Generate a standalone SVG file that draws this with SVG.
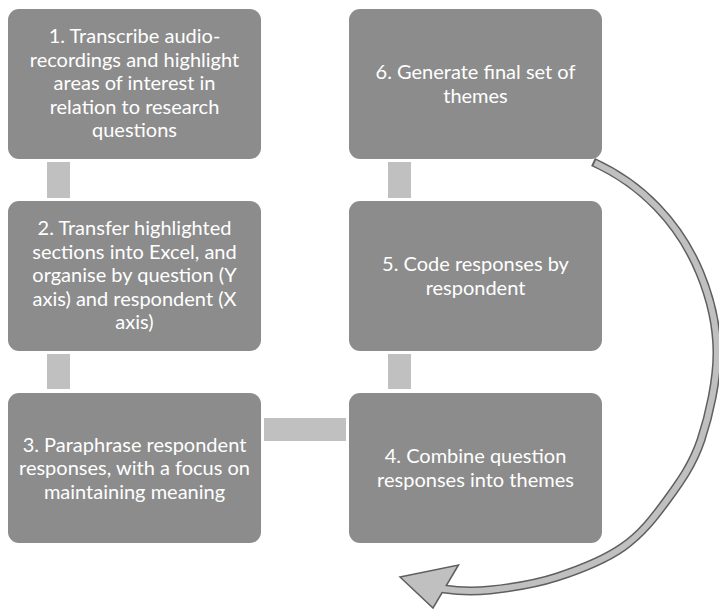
<svg xmlns="http://www.w3.org/2000/svg" width="719" height="611" viewBox="0 0 719 611">
<defs>
<style>
.box{fill:#8c8c8c;}
.lbl{fill:#ffffff;font-family:Lato,"Liberation Sans",sans-serif;font-size:20px;text-anchor:middle;}
.bar{fill:#c0c0c0;}
.shaftDark{fill:none;stroke:#5f5f5f;stroke-width:9;stroke-linecap:butt;}
.shaftLight{fill:none;stroke:#c0c0c0;stroke-width:6;stroke-linecap:butt;}
.head{fill:#c0c0c0;stroke:#5f5f5f;stroke-width:1.5;stroke-linejoin:miter;}
</style>
</defs>
<rect width="719" height="611" fill="#ffffff"/>
<g id="connectors">
<rect class="bar" x="47" y="162" width="23" height="36"/>
<rect class="bar" x="47" y="354" width="23" height="35"/>
<rect class="bar" x="264" y="418" width="82" height="23"/>
<rect class="bar" x="388" y="354" width="23" height="35"/>
<rect class="bar" x="388" y="162" width="23" height="36"/>
<g id="cycle-arrow">
<path class="shaftDark" d="M593,162 C615,172 639.2,188.5 657,207 C674.8,225.5 690,248.8 700,273 C710,297.2 716.8,324.2 717,352 C717.2,379.8 709.3,415.3 701,440 C692.7,464.7 680,482.2 667,500 C654,517.8 641.3,534.2 623,547 C604.7,559.8 579.2,569.8 557,577 C534.8,584.2 508.8,588 490,590 C471.2,592 459,591.3 444,589 L437,588"/>
<polygon class="head" points="400,577 458.5,565 433,608"/>
<path class="shaftLight" pathLength="1000" stroke-dasharray="0 3 2000" d="M593,162 C615,172 639.2,188.5 657,207 C674.8,225.5 690,248.8 700,273 C710,297.2 716.8,324.2 717,352 C717.2,379.8 709.3,415.3 701,440 C692.7,464.7 680,482.2 667,500 C654,517.8 641.3,534.2 623,547 C604.7,559.8 579.2,569.8 557,577 C534.8,584.2 508.8,588 490,590 C471.2,592 459,591.3 444,589 L437,588"/>
</g>
</g>
<g id="node1">
<rect class="box" x="8" y="9" width="253" height="150" rx="11"/>
<text class="lbl" x="134.5"><tspan x="134.5" y="43">1. Transcribe audio-</tspan><tspan x="134.5" y="66.5">recordings and highlight</tspan><tspan x="134.5" y="90">areas of interest in</tspan><tspan x="134.5" y="113.5">relation to research</tspan><tspan x="134.5" y="137">questions</tspan></text>
</g>
<g id="node2">
<rect class="box" x="8" y="201" width="253" height="150" rx="11"/>
<text class="lbl"><tspan x="134.5" y="235">2. Transfer highlighted</tspan><tspan x="134.5" y="258.5">sections into Excel, and</tspan><tspan x="134.5" y="282">organise by question (Y</tspan><tspan x="134.5" y="305.5">axis) and respondent (X</tspan><tspan x="134.5" y="329">axis)</tspan></text>
</g>
<g id="node3">
<rect class="box" x="8" y="393" width="253" height="150" rx="11"/>
<text class="lbl"><tspan x="134.5" y="451.5">3. Paraphrase respondent</tspan><tspan x="134.5" y="475">responses, with a focus on</tspan><tspan x="134.5" y="498.5">maintaining meaning</tspan></text>
</g>
<g id="node4">
<rect class="box" x="349" y="393" width="253" height="150" rx="11"/>
<text class="lbl"><tspan x="475.5" y="463.25">4. Combine question</tspan><tspan x="475.5" y="486.75">responses into themes</tspan></text>
</g>
<g id="node5">
<rect class="box" x="349" y="201" width="253" height="150" rx="11"/>
<text class="lbl"><tspan x="475.5" y="271.25">5. Code responses by</tspan><tspan x="475.5" y="294.75">respondent</tspan></text>
</g>
<g id="node6">
<rect class="box" x="349" y="9" width="253" height="150" rx="11"/>
<text class="lbl"><tspan x="475.5" y="79.25">6. Generate final set of</tspan><tspan x="475.5" y="102.75">themes</tspan></text>
</g>
</svg>
